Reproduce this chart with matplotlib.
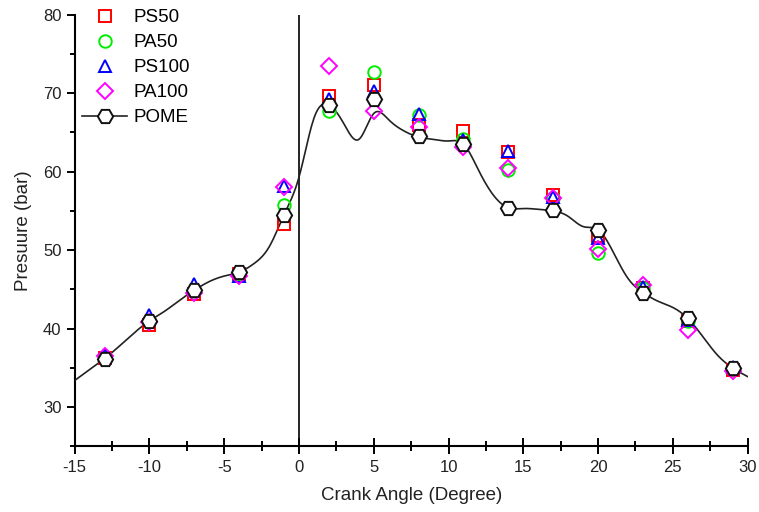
import numpy as np
import matplotlib
matplotlib.use('Agg')
import matplotlib.pyplot as plt
from matplotlib.lines import Line2D
from matplotlib.ticker import MultipleLocator

plt.rcParams['font.family'] = ['Liberation Sans', 'DejaVu Sans']
plt.rcParams['axes.unicode_minus'] = False

# crank angles where the fuel blends were measured
angle = [-13, -10, -7, -4, -1, 2, 5, 8, 11, 14, 17, 20, 23, 26, 29]

ps50 = [36.3, 40.5, 44.4, 46.9, 53.3, 69.6, 71.0, 65.9, 65.2, 62.5, 57.0, 51.8, 45.2, 41.0, 34.7]
pa50 = [36.4, 41.0, 44.8, 47.0, 55.7, 67.7, 72.7, 67.2, 64.2, 60.2, 56.6, 49.6, 45.2, 41.0, 34.9]
ps100 = [36.6, 41.8, 45.7, 46.7, 58.2, 69.2, 70.3, 67.3, 64.0, 62.6, 56.8, 51.5, 45.3, 41.1, 35.1]
pa100 = [36.5, 40.9, 44.6, 46.7, 58.0, 73.5, 67.7, 65.7, 63.1, 60.4, 56.6, 50.1, 45.6, 39.8, 34.6]
pome = [36.2, 41.0, 44.9, 47.2, 54.5, 68.5, 69.3, 64.5, 63.5, 55.4, 55.1, 52.6, 44.6, 41.3, 35.0]

# POME trace, one reading per degree
trace_angle = list(range(-15, 31))
trace_p = [33.4, 34.8, 36.2, 37.8, 39.5, 41.0, 42.2, 43.6, 44.9, 46.0,
           46.7, 47.2, 48.3, 50.4, 54.5, 59.3, 66.8, 68.5, 66.1, 64.1,
           67.4, 66.6, 65.2, 64.4, 64.1, 63.9, 63.5, 60.2, 57.0, 55.4,
           55.3, 55.2, 55.0, 54.3, 53.0, 52.6, 49.8, 46.4, 44.6, 43.5,
           42.7, 41.3, 39.0, 36.6, 35.0, 33.9]


def natural_spline(x, y, xs):
    """Natural cubic spline through (x, y), evaluated at xs."""
    x = np.asarray(x, float)
    y = np.asarray(y, float)
    n = len(x)
    h = np.diff(x)
    A = np.zeros((n, n))
    b = np.zeros(n)
    A[0, 0] = A[-1, -1] = 1
    for i in range(1, n - 1):
        A[i, i - 1] = h[i - 1]
        A[i, i] = 2 * (h[i - 1] + h[i])
        A[i, i + 1] = h[i]
        b[i] = 3 * ((y[i + 1] - y[i]) / h[i] - (y[i] - y[i - 1]) / h[i - 1])
    c = np.linalg.solve(A, b)
    idx = np.clip(np.searchsorted(x, xs) - 1, 0, n - 2)
    dx = xs - x[idx]
    bb = (y[idx + 1] - y[idx]) / h[idx] - h[idx] * (2 * c[idx] + c[idx + 1]) / 3
    d = (c[idx + 1] - c[idx]) / (3 * h[idx])
    return y[idx] + bb * dx + c[idx] * dx ** 2 + d * dx ** 3


fig = plt.figure(figsize=(7.59, 5.12), dpi=100)
ax = fig.add_axes([0.0984, 0.128, 0.8866, 0.8436])

xs = np.linspace(-15, 30, 600)
ax.plot(xs, natural_spline(trace_angle, trace_p, xs), color='#222222', lw=1.2, zorder=3)
ax.axvline(0, color='black', lw=1.2, zorder=1)

mk = dict(linestyle='none', mfc='none', mew=1.4, zorder=4)
ax.plot(angle, ps50, marker='s', ms=8, mec='#ff0000', label='PS50', **mk)
ax.plot(angle, pa50, marker='o', ms=9, mec='#00ee00', label='PA50', **mk)
ax.plot(angle, ps100, marker='^', ms=9, mec='#0000ff', label='PS100', **mk)
ax.plot(angle, pa100, marker='D', ms=8, mec='#ff00ff', label='PA100', **mk)
ax.plot(angle, pome, linestyle='none', marker='H', ms=11, mfc='white',
        mec='#111111', mew=1.4, zorder=5)

handles, labels = ax.get_legend_handles_labels()
handles.append(Line2D([], [], color='#222222', lw=1.2, marker='H', ms=11,
                      mfc='white', mec='#111111', mew=1.4))
labels.append('POME')
ax.legend(handles, labels, loc='upper left', bbox_to_anchor=(0.0, 1.03),
          frameon=False, fontsize=13.5, handlelength=2.4, labelspacing=0.42,
          handletextpad=0.35, borderpad=0, borderaxespad=0.4)

ax.set_xlim(-15, 30)
ax.set_ylim(25, 80)
ax.xaxis.set_major_locator(MultipleLocator(5))
ax.xaxis.set_minor_locator(MultipleLocator(2.5))
ax.yaxis.set_major_locator(MultipleLocator(10))
ax.yaxis.set_minor_locator(MultipleLocator(5))
ax.tick_params(axis='x', which='major', direction='inout', length=11, width=1.4,
               labelsize=12, labelcolor='#222222', pad=4)
ax.tick_params(axis='x', which='minor', direction='inout', length=7, width=1.4)
ax.tick_params(axis='y', which='major', direction='out', length=6, width=1.4,
               labelsize=12, labelcolor='#222222')
ax.tick_params(axis='y', which='minor', direction='out', length=3.5, width=1.4)

for s in ['top', 'right']:
    ax.spines[s].set_visible(False)
for s in ['left', 'bottom']:
    ax.spines[s].set_linewidth(1.5)

ax.set_xlabel('Crank Angle (Degree)', fontsize=13.5, color='#222222', labelpad=9)
ax.set_ylabel('Presuure (bar)', fontsize=13.5, color='#222222', labelpad=8)

fig.savefig('out.png', dpi=100)
